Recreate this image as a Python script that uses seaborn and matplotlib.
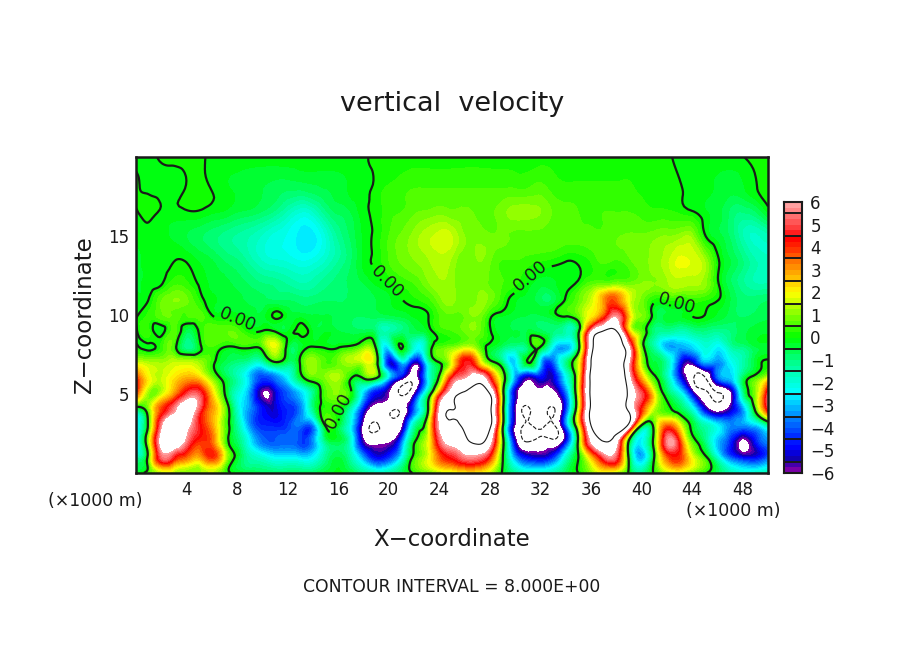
import matplotlib
matplotlib.use("Agg")
import matplotlib.pyplot as plt
import matplotlib.tri as mtri
import numpy as np
import pandas as pd
import seaborn as sns
from matplotlib.colors import BoundaryNorm, LinearSegmentedColormap

sns.set_theme(style="ticks")

# grid of the field, x in 1000 m
x_km = list(range(0, 51))
z_km = [0, 1, 2, 3, 4, 5, 6, 7, 8, 9, 10, 11, 12, 13.5, 15, 16.5, 18, 20]

w_z00 = [-.3, .5, 1.5, 1.5, 1.2, 1.2, 1.5, .5, -.2, -.5, -.7, -.8, -.8, -.8, -.8, -.4, -.2, -.5, -1.2, -1.6, -1.4, -.8, .1, .6, 1.2, 1.5, 2, 2, 1.5, -.1, -1.2, -1.8, -1.8, -1.5, -.7, 0, 1, 1.8, 1.2, -.2, -1.2, .1, 1.2, 1.5, .7, .1, -.7, -1.5, -2, -1.8, -1.5]
w_z01 = [-1.5, .5, 5.2, 4.5, 3.5, 2.8, 4, 1.8, -.3, -1.5, -2, -2.5, -2.5, -2.7, -2.5, -1.2, -.5, -1.5, -3.5, -5, -4.5, -2.5, .3, 1.5, 3.5, 4.5, 5.5, 5.5, 4, .1, -3.5, -5, -5.3, -4.5, -2, 0, 2.5, 5, 5, -.3, -3.2, 0, 3.5, 4, 1.8, .3, -2, -4, -5, -5, -4]
w_z02 = [-3, 1.2, 6.5, 7.3, 5.5, 4, 3.5, .7, -.8, -2.5, -3.8, -4, -3.8, -4.2, -3.5, -1, -.5, -2, -5.8, -6.5, -6.2, -4, -.2, 1.5, 5, 6.5, 7.5, 8.5, 6.5, .5, -5.5, -8.1, -7.3, -7.5, -5, .3, 6, 8, 6.5, -.2, -2.5, .5, 5.5, 4, .6, -1, -3, -4.5, -6.3, -4.8, -3.5]
w_z03 = [-2.5, .3, 5.5, 7.5, 6.5, 4.5, 3, .8, -1.3, -3.5, -4.5, -4.6, -4.3, -3.8, -3.7, .1, -.4, -2.5, -6.5, -8.2, -7.4, -6.3, -1.5, .8, 6, 7.5, 8.5, 10, 8.5, .3, -6.2, -8.3, -7.5, -8.3, -4, 1.5, 8, 11, 11, 7, -.2, .5, 3.5, 2, -.3, -1.5, -2.5, -3.5, -3.5, -3, -1.5]
w_z04 = [-1, .8, 3.8, 5.5, 7, 5, 3, 1, -1.8, -3.5, -4.8, -5.2, -4.5, -3.7, -1.2, .3, .05, -1.8, -5, -7, -7.6, -7.5, -4, -.6, 6, 8, 9, 10, 8.5, .5, -6, -8.3, -7.3, -8.2, -4.5, 1.5, 8.5, 11, 11, 7.5, 4, 1.3, .3, -.5, -2, -5, -6.6, -5.5, -3.5, .2, 4.5]
w_z05 = [3.8, 1, 1.5, 3, 4.8, 5, 2.5, .05, -2, -3.5, -6, -5.3, -4, -3, -1.2, .6, 1, .1, -3, -5, -6, -8.2, -6, -1.5, 3.5, 7, 8.5, 9.5, 8, .6, -5.5, -7, -6.2, -6.5, -4, 1.5, 8.5, 11, 11, 7.5, 5, 2, -.5, -2, -5, -7.5, -8.2, -6.5, -1.5, 1, 5]
w_z06 = [4, 2, 1.5, 2.2, 2.8, 2.5, 1, -.4, -1.5, -3, -4.3, -3.8, -2.6, -.5, .6, 1, 1.3, .05, .05, 0, -3, -5.5, -7, -3, .3, 4.5, 5.8, 7, 4.5, .8, -3.5, -5.8, -5, -5.3, -2.5, 1.5, 8.5, 11, 11, 6.5, 2.8, .3, -1.5, -4.5, -7.5, -8.3, -4, -3, -.8, .5, 1.8]
w_z07 = [1.5, 1.3, 1.2, 1.5, 1.5, 1.2, .3, -.6, -1, -1.5, -1.7, -.1, -.8, .1, 1.2, .5, .8, 1.3, 1.5, .6, -5, -3, -5.5, -2.5, 0, 1.8, 4.5, 3, .4, -1, -2.8, .02, -3, -4, -1.2, 1.5, 8, 10.5, 10, 6, 1.3, -.5, -1.5, -4.5, -5.5, -3.2, -3.5, -2.5, -1.5, -.4, .1]
w_z08 = [.1, -.1, .3, .4, -1.2, -.3, .5, .05, .1, .2, .5, 1.8, -.3, -.4, 0, -.1, -.1, .1, .8, -.3, -2.5, .1, -2, -1.2, .5, .8, 1.3, .8, -.2, -.8, -1.2, -.8, .02, -2.5, -3.2, -.5, 7, 10, 9.5, 6, .6, -1.5, -3.2, -3.2, -2.8, -2, -2.5, -1.5, -1, -.5, -.4]
w_z09 = [-.1, .3, -.2, .6, -.6, .1, .7, .7, .6, 0, 0, -.1, -.3, .15, -.3, -.3, -.5, -.6, -.7, -1, -1.5, -1, -.6, -.3, .3, .5, .8, .9, .05, -.4, -.5, -.5, -.7, -1, -1.5, -.3, 5.5, 8, 8, 2.5, .6, -1, -1.2, -1.5, -1.2, -1, -1.2, -1, -.6, -.4, -.3]
w_z10 = [-.1, .3, .7, .7, .5, .6, 0, -.1, -.2, -.3, -.4, .1, -.3, -.4, -.5, -.5, -.6, -.7, -.7, -.6, -.5, -.4, -.2, -.05, .5, .7, .8, 1, .2, -.2, -.4, -.5, -.5, -.2, .2, .8, 2, 3.5, 5.5, 2.5, 1, -.3, -.4, -.3, 0, 0, -.3, -.6, -.8, -.7, -.6]
w_z11 = [-.2, 0, .7, 1, .8, .2, -.2, -.3, -.4, -.6, -.7, -.8, -.8, -.9, -.9, -.8, -.8, -.7, -.6, -.5, -.3, -.02, .2, .4, .9, 1.1, .8, 1, .9, .3, -.2, -.4, -.7, -.7, .05, .7, 1.5, 3, 3.5, 1.8, .9, .2, .3, .3, .4, .3, .05, -.5, -.9, -.9, -.8]
w_z12 = [-.3, -.2, -.05, .4, .3, -.05, -.3, -.4, -.6, -.8, -1, -1.1, -1.3, -1.5, -1.4, -1.1, -.9, -.7, -.5, -.2, 0, .3, .5, .9, 1.2, 1.1, .8, .9, .7, .5, .3, -.1, -.4, -.3, -.15, .1, .6, .7, .9, .8, 1, 1, 1.2, 1.4, 1.3, 1.1, .1, -.7, -1.2, -1.5, -1.5]
w_z13 = [-.3, -.2, -.15, -.02, -.05, -.3, -.5, -.8, -1, -1.4, -1.8, -2, -2.1, -2.3, -2.2, -1.8, -1.3, -.8, -.2, .1, .5, .8, 1, 1.2, 1.4, 1.2, .8, 1, .8, .5, .5, .4, .3, .2, .05, .1, .3, .6, .5, .7, .9, 1.1, 1.4, 1.8, 1.7, 1.2, .1, -.5, -1, -1.5, -1.7]
w_z15 = [-.2, -.1, -.2, -.3, -.5, -.7, -.9, -1.1, -1.3, -1.5, -1.8, -2.1, -2.3, -2.6, -2.6, -2, -1.2, -.7, -.2, .1, .5, .8, 1.1, 1.4, 1.6, 1.5, 1, .9, .8, .8, .7, .7, .7, .7, .6, .6, .6, .6, .7, .8, .8, .9, 1, 1.1, 1.1, .05, -.4, -.8, -1.5, -1.8, -1.6]
w_z16 = [-.05, .1, -.05, -.1, -.05, -.05, -.2, -.3, -.5, -.6, -.8, -1.1, -1.6, -2, -1.8, -1.1, -.7, -.5, -.1, .1, .4, .5, .7, .8, .9, .8, .8, .7, .7, .9, 1.1, 1.1, 1, .7, .6, .5, .4, .5, .5, .5, .4, .3, .3, .2, .05, -.2, -.4, -.8, -1, -.8, -.2]
w_z18 = [.05, -.05, -.1, -.1, .02, .1, -.02, -.2, -.3, -.4, -.5, -.6, -.7, -.7, -.6, -.5, -.4, -.2, -.1, .1, .3, .4, .5, .5, .5, .5, .5, .5, .5, .5, .5, .5, .6, .4, .3, .3, .3, .3, .3, .3, .2, .2, .1, .05, -.2, -.2, -.3, -.4, -.3, -.03, .1]
w_z20 = [-.1, -.1, .05, .1, .1, .1, -.1, -.1, -.1, -.1, -.1, -.1, -.1, -.1, -.1, -.1, -.1, -.1, -.05, .1, .1, .1, .1, .1, .1, .1, .1, .1, .1, .1, .1, .1, .1, .1, .1, .1, .1, .1, .1, .1, .1, .1, .05, -.1, -.1, -.1, -.1, -.1, -.02, .1, .1]

w_rows = [w_z00, w_z01, w_z02, w_z03, w_z04, w_z05, w_z06, w_z07, w_z08,
          w_z09, w_z10, w_z11, w_z12, w_z13, w_z15, w_z16, w_z18, w_z20]

# colour ramp of the scale bar
ramp_values = [-6, -5.5, -5, -4.5, -4, -3.5, -3, -2.5, -2, -1.5, -1, -.5, 0, .5, 1, 1.5, 2, 2.5, 3, 3.5, 4, 4.5, 5, 5.5, 6]
ramp_colors = ["#7a00a8", "#1000b0", "#0000ff", "#0028ff", "#0060ff", "#0090ff", "#00c8ff", "#00ffff", "#00ffd8", "#00ffb0", "#00ff80", "#00ff40",
               "#00ff00", "#40ff00", "#80ff00", "#c0ff00", "#ffff00", "#ffd000", "#ffa000", "#ff7000", "#ff3000", "#ff0000", "#ff4040", "#ff7070", "#ffa0a0"]
bar_ticks = list(range(-6, 7))

cmap = LinearSegmentedColormap.from_list("w", [((v + 6) / 12, c) for v, c in zip(ramp_values, ramp_colors)], N=48)
cmap.set_over("white")
cmap.set_under("white")
levels = np.linspace(-6, 6, 49)
norm = BoundaryNorm(levels, 48)

X, Z = np.meshgrid(x_km, z_km)
W = np.array(w_rows, dtype=float)
tri = mtri.Triangulation(X.ravel(), Z.ravel())
refiner = mtri.UniformTriRefiner(tri)
tri_fine, w_fine = refiner.refine_field(W.ravel(), subdiv=3)

fig = plt.figure(figsize=(9.04, 6.54), dpi=100)
ax = fig.add_axes([136 / 904, 181 / 654, 632 / 904, 316 / 654])
ax.tricontourf(tri_fine, w_fine, levels=levels, cmap=cmap, norm=norm, extend="both")

ax.tricontour(tri_fine, w_fine, levels=[-16, -8], colors="k", linewidths=0.8, linestyles="--")
ax.tricontour(tri_fine, w_fine, levels=[8, 16], colors="k", linewidths=0.8, linestyles="-")
zero = ax.tricontour(tri_fine, w_fine, levels=[0], colors="k", linewidths=1.6, linestyles="-")
labels = ax.clabel(zero, fmt="%.2f", fontsize=12.5, inline=True,
                   manual=[(8, 9.6), (16.2, 3.9), (20, 12.2), (31.3, 12.4), (42.8, 10.6)])
for lab in labels:
    lab.set_color("k")

ax.set_xlim(0, 50)
ax.set_ylim(0, 20)
ax.set_xticks(range(4, 50, 4))
ax.set_xticks(range(2, 50, 2), minor=True)
ax.set_yticks([5, 10, 15])
ax.set_yticks(range(1, 20), minor=True)
ax.tick_params(which="major", direction="in", length=8.5, width=1.4, top=True, right=True, labelsize=12, colors="k")
ax.tick_params(which="minor", direction="in", length=4.5, width=1, top=True, right=True)
ax.tick_params(axis="x", which="major", pad=6)
ax.tick_params(axis="y", which="major", pad=5)
for spine in ax.spines.values():
    spine.set_linewidth(1.8)
    spine.set_color("k")

fig.text(452 / 904, 1 - 104 / 654, "vertical  velocity", ha="center", va="center", fontsize=19.5, color="k")
fig.text(452 / 904, 1 - 540 / 654, "X\u2212coordinate", ha="center", va="center", fontsize=16.5, color="k")
fig.text(84 / 904, 1 - 315 / 654, "Z\u2212coordinate", ha="center", va="center", rotation=90, fontsize=16.5, color="k")
fig.text(95 / 904, 1 - 501 / 654, "(\u00d71000 m)", ha="center", va="center", fontsize=12.5, color="k")
fig.text(733 / 904, 1 - 511 / 654, "(\u00d71000 m)", ha="center", va="center", fontsize=12.5, color="k")
fig.text(452 / 904, 1 - 587 / 654, "CONTOUR INTERVAL = 8.000E+00", ha="center", va="center", fontsize=12.4, color="k")

# scale bar drawn as a one column heatmap
bar_ax = fig.add_axes([784 / 904, 181 / 654, 18 / 904, 271 / 654])
bar_centres = (levels[:-1] + levels[1:]) / 2
bar_df = pd.DataFrame({"w": bar_centres[::-1]})
sns.heatmap(bar_df, ax=bar_ax, cmap=cmap, norm=norm, cbar=False, xticklabels=False, yticklabels=False)
for t in bar_ticks[:-1]:
    bar_ax.axhline((6 - t - 0.5) * 4, color="k", lw=1.4)
bar_ax.set_yticks([(6 - t) * 4 for t in bar_ticks])
bar_ax.set_yticklabels([str(t).replace("-", "\u2212") for t in bar_ticks], fontsize=12)
bar_ax.yaxis.tick_right()
bar_ax.tick_params(axis="y", length=0, pad=6, labelrotation=0, colors="k")
bar_ax.set_ylabel("")
for spine in bar_ax.spines.values():
    spine.set_visible(True)
    spine.set_linewidth(1.5)
    spine.set_color("k")

fig.savefig("out.png", dpi=100)
